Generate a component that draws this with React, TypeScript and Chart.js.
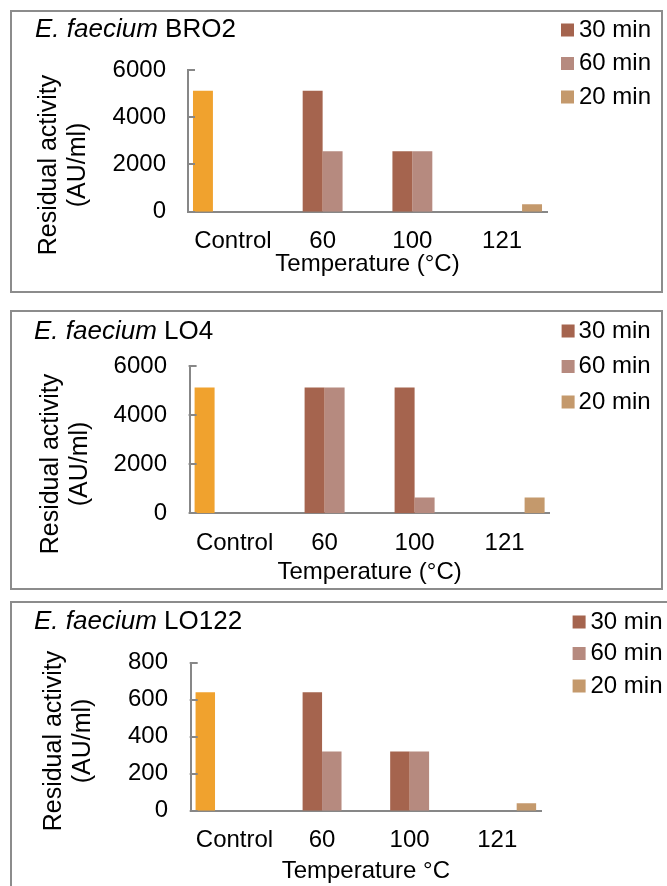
import React, { useEffect, useRef } from "react";
import { Chart, registerables } from "chart.js";

Chart.register(...registerables);

// ---------- data ----------
const categories = ["Control", "60", "100", "121"];
const seriesNames = ["Control", "30 min", "60 min", "20 min"];
const legendSeries = ["30 min", "60 min", "20 min"];
const seriesColors = ["#F0A22E", "#A5644E", "#B68A7F", "#C4996C"];

const bro2Control = [5120, null, null, null];
const bro2Min30 = [null, 5120, 2560, 0];
const bro2Min60 = [null, 2560, 2560, 0];
const bro2Min20 = [null, 0, 0, 320];
const bro2Ticks = [0, 2000, 4000, 6000];

const lo4Control = [5120, null, null, null];
const lo4Min30 = [null, 5120, 5120, 0];
const lo4Min60 = [null, 5120, 640, 0];
const lo4Min20 = [null, 0, 0, 640];
const lo4Ticks = [0, 2000, 4000, 6000];

const lo122Control = [640, null, null, null];
const lo122Min30 = [null, 640, 320, 0];
const lo122Min60 = [null, 320, 320, 0];
const lo122Min20 = [null, 0, 0, 40];
const lo122Ticks = [0, 200, 400, 600, 800];

const speciesName = "E. faecium";
const yTitleLines = ["Residual activity", "(AU/ml)"];

const panels = [
  { strain: "BRO2", series: [bro2Control, bro2Min30, bro2Min60, bro2Min20], ticks: bro2Ticks, xTitle: "Temperature (°C)" },
  { strain: "LO4", series: [lo4Control, lo4Min30, lo4Min60, lo4Min20], ticks: lo4Ticks, xTitle: "Temperature (°C)" },
  { strain: "LO122", series: [lo122Control, lo122Min30, lo122Min60, lo122Min20], ticks: lo122Ticks, xTitle: "Temperature °C" },
];

// ---------- layout / style ----------
const FONT = '"Liberation Sans", Arial, sans-serif';
const FS = 24;
const TITLE_FS = 26;
const YTITLE_FS = 25;
const AXIS = "#878787";
const BORDER = "#8c8c8c";

const layouts = [
  {
    box: { left: 10, top: 10, width: 653, height: 283 },
    area: { left: 188, right: 547, top: 70, bottom: 211.7 },
    tickRight: 166, xLabelMid: 241, xTitleMid: 264,
    titleX: 35, titleMid: 30, yTitleX: [49, 78], yTitleMid: 165,
    legendBoxX: 561, legendTextX: 579, legendMids: [30, 63.5, 97],
  },
  {
    box: { left: 10, top: 310, width: 653, height: 280 },
    area: { left: 189.6, right: 549.6, top: 366, bottom: 513.3 },
    tickRight: 167, xLabelMid: 543, xTitleMid: 572,
    titleX: 34, titleMid: 332, yTitleX: [51, 80], yTitleMid: 464,
    legendBoxX: 561.6, legendTextX: 578.6, legendMids: [331, 366.5, 402],
  },
  {
    box: { left: 10, top: 601, width: 667, height: 295 },
    area: { left: 190.7, right: 541, top: 662.7, bottom: 810.7 },
    tickRight: 168, xLabelMid: 840.7, xTitleMid: 871.7,
    titleX: 34, titleMid: 621.7, yTitleX: [54, 83], yTitleMid: 741,
    legendBoxX: 572.6, legendTextX: 590.5, legendMids: [622, 653.5, 686],
  },
];

function Panel({ spec, layout }: { spec: any; layout: any }) {
  const ref = useRef<HTMLCanvasElement>(null);
  const W = layout.box.width - 4;
  const H = layout.box.height - 4;

  useEffect(() => {
    const canvas = ref.current!;
    const ox = layout.box.left + 2;
    const oy = layout.box.top + 2;
    const aLeft = layout.area.left - ox;
    const aRight = layout.area.right - ox;
    const aTop = layout.area.top - oy;
    const aBottom = layout.area.bottom - oy;
    const lh = FS * 1.2;
    const ticks: number[] = spec.ticks;

    const datasets = spec.series.map((s: any[], i: number) => ({
      label: seriesNames[i],
      data: s,
      backgroundColor: seriesColors[i],
      borderWidth: 0,
      categoryPercentage: 0.889,
      barPercentage: 1,
    }));

    const decor = {
      id: "decor",
      afterDraw(chart: any) {
        const ctx = chart.ctx;
        const ys = chart.scales.y;
        ctx.save();
        // inside tick marks
        ctx.strokeStyle = AXIS;
        ctx.lineWidth = 2;
        ys.ticks.forEach((t: any) => {
          const py = Math.round(ys.getPixelForValue(t.value));
          ctx.beginPath();
          ctx.moveTo(chart.chartArea.left - 1, py);
          ctx.lineTo(chart.chartArea.left + 7, py);
          ctx.stroke();
        });
        // panel title with italic species
        ctx.fillStyle = "#000";
        ctx.textBaseline = "middle";
        ctx.textAlign = "left";
        let x = layout.titleX - ox;
        const ty = layout.titleMid - oy;
        const parts = [
          { t: speciesName, it: true },
          { t: " " + spec.strain, it: false },
        ];
        parts.forEach((p) => {
          ctx.font = `${p.it ? "italic " : ""}${TITLE_FS}px ${FONT}`;
          ctx.fillText(p.t, x, ty);
          x += ctx.measureText(p.t).width;
        });
        // legend
        ctx.font = `${FS}px ${FONT}`;
        let li = 0;
        chart.data.datasets.forEach((ds: any) => {
          if (!legendSeries.includes(ds.label)) return;
          const my = layout.legendMids[li] - oy;
          ctx.fillStyle = ds.backgroundColor;
          ctx.fillRect(layout.legendBoxX - ox, my - 6.5, 13, 13);
          ctx.fillStyle = "#000";
          ctx.fillText(ds.label, layout.legendTextX - ox, my);
          li++;
        });
        // y-axis title (two lines, rotated)
        ctx.font = `${YTITLE_FS}px ${FONT}`;
        ctx.textAlign = "center";
        yTitleLines.forEach((line, i) => {
          ctx.save();
          ctx.translate(layout.yTitleX[i] - ox, layout.yTitleMid - oy);
          ctx.rotate(-Math.PI / 2);
          ctx.fillText(line, 0, 0);
          ctx.restore();
        });
        ctx.restore();
      },
    };

    const chart = new Chart(canvas, {
      type: "bar",
      data: { labels: categories, datasets },
      options: {
        responsive: false,
        animation: false,
        devicePixelRatio: 1,
        layout: { padding: { left: 0, top: aTop, right: W - aRight, bottom: 0 } },
        plugins: {
          legend: { display: false },
          tooltip: { enabled: false },
          title: { display: false },
        },
        scales: {
          x: {
            grid: { display: false, drawTicks: false },
            border: { display: true, color: AXIS, width: 2 },
            ticks: {
              color: "#000",
              font: { family: FONT, size: FS },
              padding: layout.xLabelMid - layout.area.bottom - lh / 2,
              maxRotation: 0,
              autoSkip: false,
            },
            title: {
              display: true,
              text: spec.xTitle,
              color: "#000",
              font: { family: FONT, size: FS },
              padding: { top: 0, bottom: H - lh / 2 - (layout.xTitleMid - oy) },
            },
            afterFit: (s: any) => {
              s.height = H - aBottom;
            },
          },
          y: {
            min: ticks[0],
            max: ticks[ticks.length - 1],
            grid: { display: false, drawTicks: false },
            border: { display: true, color: AXIS, width: 2 },
            ticks: {
              stepSize: ticks[1] - ticks[0],
              color: "#000",
              font: { family: FONT, size: FS },
              padding: layout.area.left - layout.tickRight,
              callback: (v: any) => String(v),
            },
            afterFit: (s: any) => {
              s.width = aLeft;
            },
          },
        },
      },
      plugins: [decor],
    } as any);
    return () => chart.destroy();
  }, []);

  return (
    <div
      style={{
        position: "absolute",
        left: layout.box.left,
        top: layout.box.top,
        width: layout.box.width,
        height: layout.box.height,
        border: `2px solid ${BORDER}`,
        boxSizing: "border-box",
        background: "#fff",
      }}
    >
      <canvas
        ref={ref}
        width={W}
        height={H}
        style={{ position: "absolute", left: 0, top: 0, width: W, height: H }}
      />
    </div>
  );
}

export default function App() {
  return (
    <div
      style={{
        position: "absolute",
        left: 0,
        top: 0,
        width: 667,
        height: 886,
        overflow: "hidden",
        background: "#fff",
      }}
    >
      {panels.map((p, i) => (
        <Panel key={i} spec={p} layout={layouts[i]} />
      ))}
    </div>
  );
}
